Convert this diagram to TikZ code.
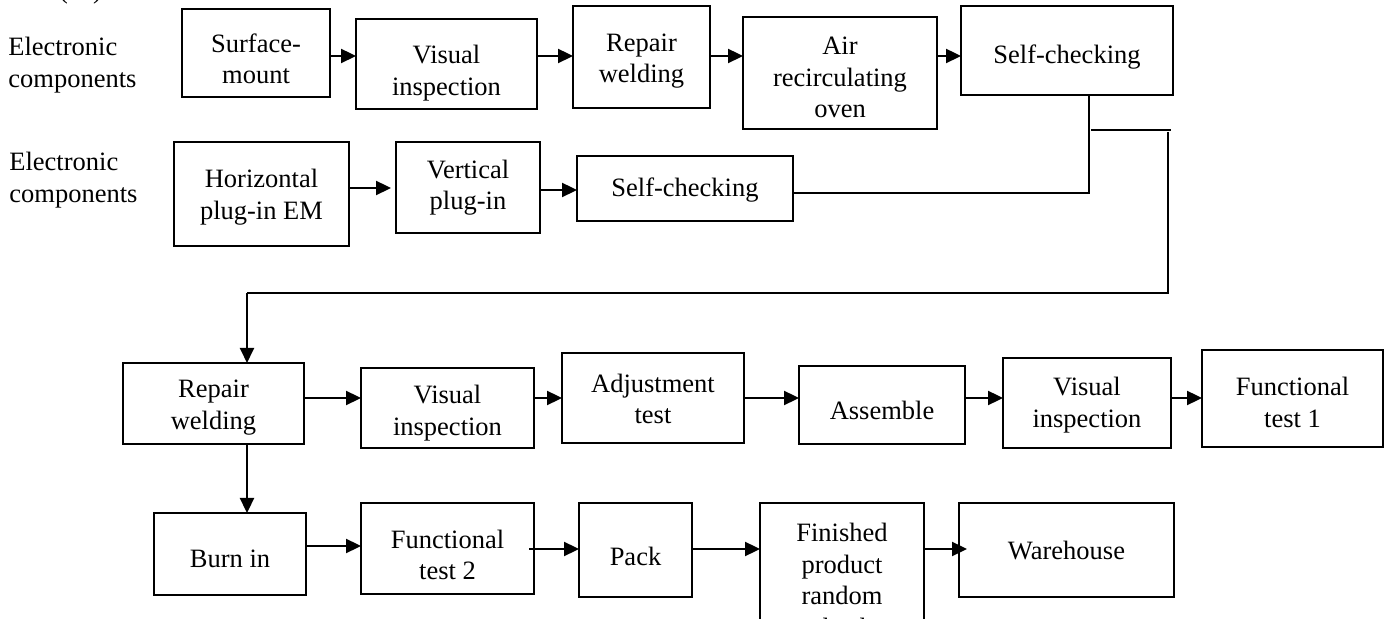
\documentclass[tikz,border=0pt]{standalone}
\usepackage{fontspec}
\setmainfont{Liberation Serif}
\usetikzlibrary{arrows.meta}

% one process step: name, centre x, centre y, width, height, text offset, text
\newcommand\flowstep[7]{%
  \node[stepbox={#4}{#5}] (#1) at (#2,#3) {};
  \node[steptext] (#1-t) at (#2,#3+#6) {#7};}

\begin{document}
\begin{tikzpicture}[x=0.5pt,y=-0.5pt,
  stepbox/.style 2 args={draw, line width=1.25pt, minimum width=#1*0.5pt,
    minimum height=#2*0.5pt, inner sep=0pt, outer sep=0pt},
  steptext/.style={align=center, inner sep=0pt,
    font=\fontsize{13.25}{15.75}\selectfont},
  sidetext/.style={align=left, anchor=west, inner sep=0pt,
    font=\fontsize{13.25}{15.75}\selectfont},
  arr/.style={line width=1.15pt, -{Triangle[length=7.5pt,width=7pt]}},
  link/.style={line width=0.75pt},
]
\useasboundingbox (0,0) rectangle (1391,619);
\clip (0,0) rectangle (1391,619);

% caption above the chart
\node[steptext, anchor=base] (cap) at (80.5,-1) {( a )};

% input labels
\node[sidetext] (in1) at (8,65) {Electronic\\components};
\node[sidetext] (in2) at (9,180) {Electronic\\components};

% surface-mount line
\flowstep{sm}{256}{53}{148}{88}{6}{Surface-\\mount}
\flowstep{vi1}{446.5}{64}{181}{90}{9}{Visual\\inspection}
\flowstep{rw1}{641.5}{57}{137}{102}{4}{Repair\\welding}
\flowstep{air}{840}{73}{194}{112}{4.5}{Air\\recirculating\\oven}
\flowstep{sc1}{1067}{50.5}{212}{89}{6.5}{Self-checking}

% plug-in line
\flowstep{hp}{261.5}{194}{175}{104}{3}{Horizontal\\plug-in EM}
\flowstep{vp}{468}{187.5}{144}{91}{0}{Vertical\\plug-in}
\flowstep{sc2}{685}{188.5}{216}{65}{2}{Self-checking}

% main line
\flowstep{rw2}{213.5}{403.5}{181}{81}{4}{Repair\\welding}
\flowstep{vi2}{447.5}{408}{173}{80}{5}{Visual\\inspection}
\flowstep{adj}{653}{398}{182}{90}{1}{Adjustment\\test}
\flowstep{asm}{882}{405}{166}{78}{5}{Assemble}
\flowstep{vi3}{1087}{403}{168}{90}{2}{Visual\\inspection}
\flowstep{ft1}{1292.5}{398.5}{181}{97}{4}{Functional\\test 1}

% final line
\flowstep{burn}{230}{554}{152}{82}{5}{Burn in}
\flowstep{ft2}{447.5}{548.5}{173}{91}{6.5}{Functional\\test 2}
\flowstep{pack}{635.5}{550}{113}{94}{6.5}{Pack}
\flowstep{fin}{842}{580}{164}{154}{0}{Finished\\product\\random\\check}
\flowstep{wh}{1066.5}{550}{215}{94}{1}{Warehouse}

% junction points of the merge lines
\coordinate (j1) at (1089,193);
\coordinate (j2a) at (1091,130);
\coordinate (j2b) at (1171,130);
\coordinate (j3) at (1168,132);
\coordinate (j4) at (1168,293);
\coordinate (j5) at (247,293);
\coordinate (j6) at (247,0);

% arrows of the surface-mount line
\draw[arr] (sm.east |- 0,56) -- (vi1.west |- 0,56);
\draw[arr] (vi1.east |- 0,56) -- (rw1.west |- 0,56);
\draw[arr] (rw1.east |- 0,56) -- (air.west |- 0,56);
\draw[arr] (air.east |- 0,56) -- (sc1.west |- 0,56);

% arrows of the plug-in line
\draw[arr] (hp.east |- 0,188) -- ([xshift=-2.5pt]vp.west |- 0,188);
\draw[arr] (vp.east |- 0,190) -- (sc2.west |- 0,190);

% merging both lines
\draw[link] (sc2.east |- j1) -- (j1) -- (j1 |- sc1.south);
\draw[link] (j2a) -- (j2b);
\draw[link] (j3) -- (j4) -- (j5);
\draw[arr, line width=0.95pt] (j5) -- (j5 |- rw2.north);

% arrows of the main line
\draw[arr] (rw2.east |- 0,398) -- (vi2.west |- 0,398);
\draw[arr] (vi2.east |- 0,398) -- (adj.west |- 0,398);
\draw[arr] (adj.east |- 0,398) -- (asm.west |- 0,398);
\draw[arr] (asm.east |- 0,398) -- (vi3.west |- 0,398);
\draw[arr] (vi3.east |- 0,398) -- (ft1.west |- 0,398);

% down to burn in, then the final line
\draw[arr] (j6 |- rw2.south) -- (j6 |- burn.north);
\draw[arr] (burn.east |- 0,546) -- (ft2.west |- 0,546);
\draw[arr] ([xshift=-2.5pt]ft2.east |- 0,549) -- (pack.west |- 0,549);
\draw[arr] (pack.east |- 0,549) -- (fin.west |- 0,549);
\draw[arr] (fin.east |- 0,549) -- ([xshift=4pt]wh.west |- 0,549);
\end{tikzpicture}
\end{document}
